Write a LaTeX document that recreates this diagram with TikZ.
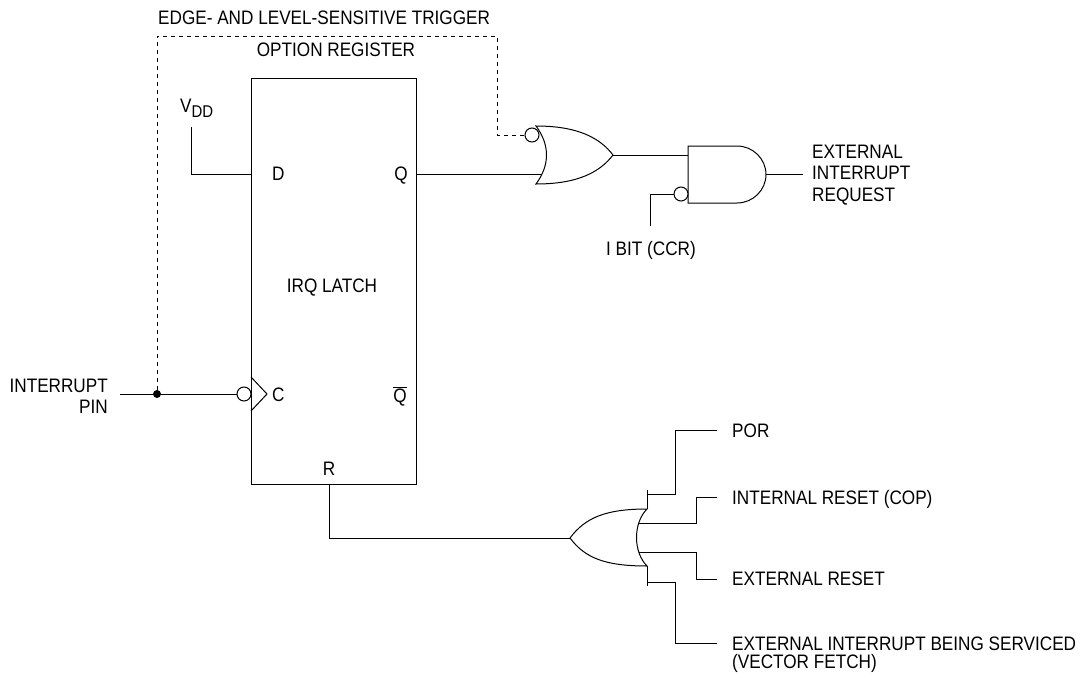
\documentclass[tikz,border=0pt]{standalone}
\usepackage{fontspec}
\setmainfont{Liberation Sans}[FakeStretch=0.88]
\tikzset{
  wire/.style={line width=1pt, line join=miter},
  ctl/.style={line width=1pt, dash pattern=on 4pt off 4pt},
  lbl/.style={inner sep=0pt, font=\fontsize{19.5}{21}\selectfont},
  bub/.style={circle, draw, line width=1pt, minimum size=14pt, inner sep=0pt, fill=white},
  jdot/.style={circle, fill=black, inner sep=0pt, minimum size=8pt},
  ffbox/.style={draw, line width=1pt, anchor=north west, inner sep=0pt, minimum width=165pt, minimum height=406pt}
}
\begin{document}
\begin{tikzpicture}[x=1pt,y=-1pt]
\useasboundingbox (0,0) rectangle (1084,680);

% ---------- flip-flop ----------
\node[ffbox] (ff) at (251,78) {};
\coordinate (D) at (251,174);
\coordinate (Q) at (416,174);
\coordinate (R) at (329,484);
\draw[wire] (251,377) -- (267,394) -- (251,411);

% ---------- labels ----------
\node[lbl, anchor=base west] (title) at (158,24) {EDGE- AND LEVEL-SENSITIVE TRIGGER};
\node[lbl, anchor=base] (optreg) at (336,56.5) {OPTION REGISTER};
\node[lbl, anchor=base west] (vddl) at (180,112) {V\raisebox{-5pt}{\fontsize{17}{17}\selectfont DD}};
\node[lbl, anchor=base west] (dl) at (272,180) {D};
\node[lbl, anchor=base east] (ql) at (408,180) {Q};
\node[lbl, anchor=base] (irq) at (332,292) {IRQ LATCH};
\node[lbl, anchor=base west] (cl) at (272,401) {C};
\node[lbl, anchor=base] (qbl) at (400,402) {$\overline{\mbox{Q}}$};
\node[lbl, anchor=base] (rl) at (329,475) {R};
\node[lbl, anchor=base east] (ip1) at (108,392) {INTERRUPT};
\node[lbl, anchor=base east] (ip2) at (108,413) {PIN};
\node[lbl, anchor=base] (ibit) at (651,255) {I BIT (CCR)};
\node[lbl, anchor=base west] (eir1) at (812,158) {EXTERNAL};
\node[lbl, anchor=base west] (eir2) at (812,179.5) {INTERRUPT};
\node[lbl, anchor=base west] (eir3) at (812,201) {REQUEST};
\node[lbl, anchor=base west] (por) at (732,437) {POR};
\node[lbl, anchor=base west] (irst) at (732,504) {INTERNAL RESET (COP)};
\node[lbl, anchor=base west] (erst) at (732,585) {EXTERNAL RESET};
\node[lbl, anchor=base west] (vf1) at (732,650) {EXTERNAL INTERRUPT BEING SERVICED};
\node[lbl, anchor=base west] (vf2) at (732,668) {(VECTOR FETCH)};

% ---------- VDD to D ----------
\coordinate (vdd) at (191,127);
\draw[wire] (vdd) |- (D);

% ---------- interrupt pin to C ----------
\coordinate (pin) at (120,394);
\node[bub] (cb) at (244,394) {};
\node[jdot] (jd) at (157,394) {};
\draw[wire] (pin) -- (jd) -- (cb.west);

% ---------- top OR gate ----------
\draw[wire] (536,126) .. controls (578,126) and (600,138) .. (613,155)
  .. controls (600,172) and (578,184) .. (536,184)
  .. controls (550,165) and (550,145) .. (536,126) -- cycle;
\coordinate (o1out) at (613,155);
\coordinate (o1in) at (541,174);
\node[bub] (ob) at (532,135) {};
\draw[wire] (Q) -- (o1in);

% ---------- dashed option-register line ----------
\coordinate (dc1) at (157,36);
\coordinate (dc2) at (497,36);
\draw[ctl] (jd) -- (dc1) -- (dc2) |- (ob.west);

% ---------- AND gate ----------
\draw[wire] (688,146) -- (737,146)
  .. controls (753,146) and (766,159) .. (766,174.5)
  .. controls (766,190) and (753,203) .. (737,203)
  -- (688,203) -- cycle;
\coordinate (a1) at (688,155);
\coordinate (aout) at (766,174.5);
\coordinate (eir) at (803,174.5);
\node[bub] (ab) at (681,194) {};
\coordinate (ib) at (650,226);
\draw[wire] (o1out) -- (a1);
\draw[wire] (aout) -- (eir);
\draw[wire] (ab.west) -| (ib);

% ---------- bottom OR gate ----------
\draw[wire] (647,509) .. controls (605,509) and (585,518) .. (570,538)
  .. controls (585,558) and (605,566) .. (647,566)
  .. controls (633,552) and (633,523) .. (647,509) -- cycle;
\coordinate (o2out) at (570,538);
\draw[wire] (R) |- (o2out);

% inputs
\coordinate (in1) at (647,494);
\coordinate (in2) at (639,523);
\coordinate (in3) at (639,552);
\coordinate (in4) at (647,582);
\coordinate (porw) at (717,430);
\coordinate (irstw) at (717,497);
\coordinate (erstw) at (717,579);
\coordinate (vfw) at (717,643);
\draw[wire] (647,490) -- (647,509);
\draw[wire] (647,566) -- (647,586);
\draw[wire] (in1) -| (675,430) -- (porw);
\draw[wire] (in2) -| (696,497) -- (irstw);
\draw[wire] (in3) -| (696,579) -- (erstw);
\draw[wire] (in4) -| (675,643) -- (vfw);
\end{tikzpicture}
\end{document}
